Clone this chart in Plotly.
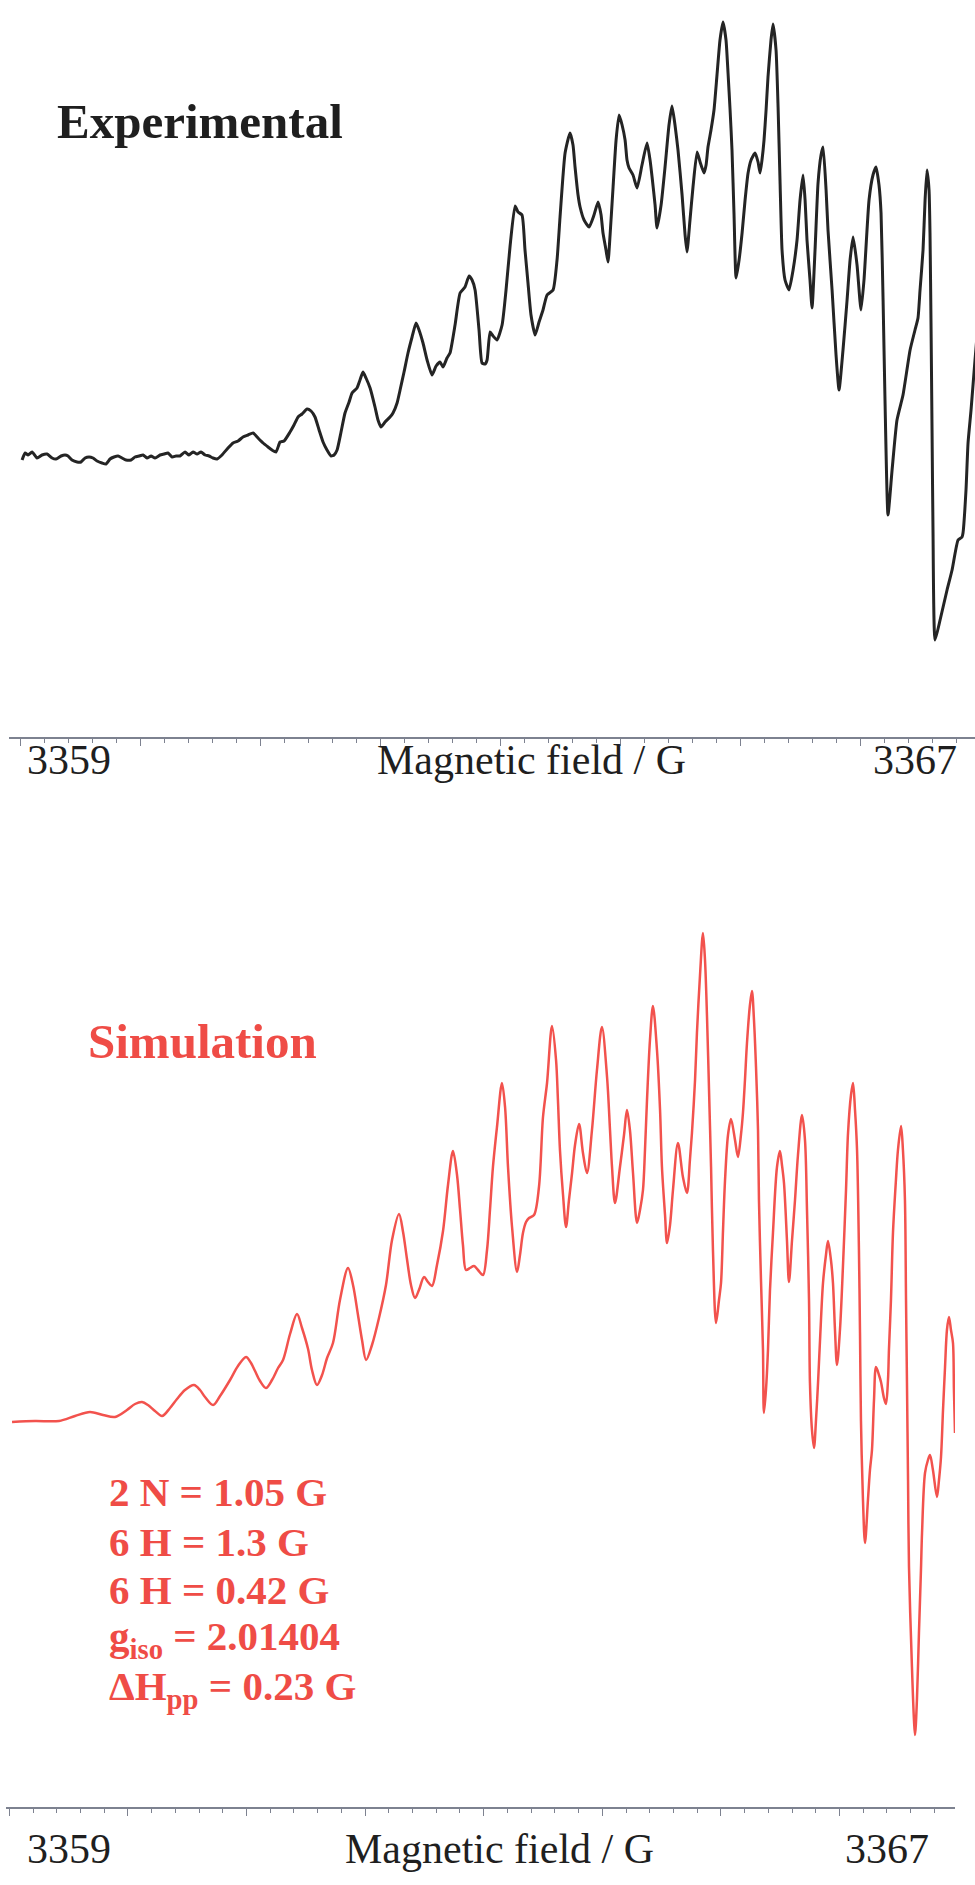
import plotly.graph_objects as go

# ---------------- data ----------------
field_exp = [
    3359.013, 3359.038, 3359.063, 3359.096, 3359.138, 3359.179, 3359.221, 3359.263, 3359.296, 3359.338,
    3359.371, 3359.396, 3359.429, 3359.471, 3359.504, 3359.538, 3359.571, 3359.604, 3359.638, 3359.679,
    3359.713, 3359.746, 3359.779, 3359.813, 3359.846, 3359.879, 3359.921, 3359.954, 3359.988, 3360.021,
    3360.054, 3360.088, 3360.121, 3360.163, 3360.196, 3360.229, 3360.263, 3360.296, 3360.329, 3360.371,
    3360.404, 3360.438, 3360.471, 3360.504, 3360.538, 3360.571, 3360.604, 3360.638,
    3360.679, 3360.729, 3360.771, 3360.813, 3360.854, 3360.896, 3360.938, 3360.979, 3361.021, 3361.063,
    3361.096, 3361.129, 3361.163, 3361.196, 3361.246, 3361.279, 3361.313, 3361.346, 3361.388, 3361.421,
    3361.454, 3361.488, 3361.521, 3361.554, 3361.588, 3361.613, 3361.638, 3361.671, 3361.704, 3361.738,
    3361.763, 3361.804, 3361.829, 3361.854, 3361.879, 3361.913, 3361.954, 3361.979, 3362.004, 3362.038,
    3362.079, 3362.104, 3362.138, 3362.163, 3362.196, 3362.229, 3362.263, 3362.296, 3362.321, 3362.354,
    3362.388, 3362.429, 3362.463, 3362.496, 3362.521, 3362.554, 3362.579, 3362.621, 3362.663, 3362.704,
    3362.738, 3362.763, 3362.788, 3362.821, 3362.846, 3362.871, 3362.888, 3362.913, 3362.938, 3362.971,
    3363.013, 3363.046, 3363.079, 3363.121, 3363.146, 3363.179, 3363.204, 3363.229, 3363.254, 3363.288,
    3363.321, 3363.354, 3363.388, 3363.438, 3363.471, 3363.496, 3363.538, 3363.579, 3363.604, 3363.621,
    3363.646, 3363.663, 3363.696, 3363.738, 3363.779, 3363.813, 3363.838, 3363.854, 3363.879, 3363.896,
    3363.913, 3363.938, 3363.963, 3363.988, 3364.013, 3364.038, 3364.054, 3364.071, 3364.104, 3364.138,
    3364.179, 3364.221, 3364.246, 3364.263, 3364.288, 3364.304, 3364.338, 3364.371, 3364.404, 3364.429,
    3364.454, 3364.479, 3364.513, 3364.538, 3364.554, 3364.579, 3364.604, 3364.638, 3364.663, 3364.696,
    3364.713, 3364.729, 3364.754, 3364.779, 3364.804, 3364.829, 3364.854, 3364.879, 3364.896, 3364.913,
    3364.929, 3364.946, 3364.963, 3364.988, 3365.013, 3365.038, 3365.063, 3365.088, 3365.121, 3365.146,
    3365.163, 3365.179, 3365.196, 3365.213, 3365.229, 3365.254, 3365.271, 3365.296, 3365.313, 3365.329,
    3365.346, 3365.371, 3365.404, 3365.438, 3365.471, 3365.496, 3365.521, 3365.538, 3365.554, 3365.579,
    3365.596, 3365.621, 3365.646, 3365.671, 3365.688, 3365.713, 3365.729, 3365.763, 3365.796, 3365.821,
    3365.854, 3365.888, 3365.913, 3365.938, 3365.971, 3366.004, 3366.029, 3366.071, 3366.104, 3366.129,
    3366.154, 3366.171, 3366.188, 3366.204, 3366.229, 3366.263, 3366.304, 3366.354, 3366.413, 3366.454,
    3366.479, 3366.496, 3366.521, 3366.538, 3366.554, 3366.571, 3366.579, 3366.588, 3366.596, 3366.604,
    3366.621, 3366.663, 3366.721, 3366.763, 3366.813, 3366.846, 3366.854, 3366.879, 3366.896, 3366.921,
    3366.954, 3366.996,
]
signal_exp = [
    -3, 4, 2, 5, -1, 2, 3, -1, -2, 1,
    2, 1, -3, -5, -5, -1, 0, -1, -4, -6,
    -7, -2, 0, 1, -1, -3, -3, 0, 1, 2,
    -1, 1, -1, 2, 3, 4, 0, 1, 1, 5,
    2, 5, 3, 5, 2, 1, -1, -2,
    2, 9, 14, 16, 20, 22, 24, 19, 14, 10,
    7, 5, 15, 16, 25, 32, 40, 43, 48, 46,
    40, 27, 15, 7, 1, 2, 7, 25, 44, 55,
    64, 69, 77, 85, 79, 69, 50, 37, 30, 35,
    40, 44, 54, 67, 85, 104, 120, 134, 127, 114,
    97, 82, 91, 95, 90, 99, 104, 132, 164, 170,
    181, 177, 167, 127, 94, 93, 97, 125, 121, 117,
    132, 167, 210, 251, 245, 242, 207, 174, 142, 122,
    135, 147, 162, 167, 197, 240, 304, 324, 312, 290,
    262, 250, 237, 230, 242, 255, 242, 224, 207, 195,
    222, 270, 317, 342, 332, 317, 297, 289, 282, 269,
    292, 314, 297, 280, 252, 229, 252, 290, 332, 351,
    332, 307, 262, 222, 205, 237, 270, 305, 295, 284,
    292, 310, 327, 347, 382, 417, 435, 417, 384, 347,
    307, 242, 179, 197, 224, 257, 284, 297, 304, 295,
    284, 297, 317, 347, 380, 417, 433, 407, 350, 277,
    207, 177, 167, 187, 217, 257, 282, 257, 217, 177,
    149, 207, 274, 302, 310, 267, 227, 167, 102, 67,
    107, 157, 197, 220, 192, 147, 177, 257, 282, 290,
    272, 244, 157, 57, -58, -13, 37, 62, 107, 127,
    139, 167, 207, 257, 287, 267, 224, 127, 27, -73,
    -183, -163, -133, -113, -83, -80, -76, -33, 14, 47,
    97, 157,
]

field_sim = [
    3359.023, 3359.217, 3359.419, 3359.554, 3359.680, 3359.790, 3359.891, 3359.992, 3360.060, 3360.119,
    3360.169, 3360.228, 3360.288, 3360.355, 3360.414, 3360.481, 3360.557, 3360.608, 3360.650, 3360.718,
    3360.777, 3360.861, 3360.928, 3360.996, 3361.038, 3361.072, 3361.114, 3361.164, 3361.215, 3361.266,
    3361.308, 3361.367, 3361.426, 3361.468, 3361.519, 3361.552, 3361.594, 3361.637, 3361.679, 3361.729,
    3361.788, 3361.856, 3361.898, 3361.940, 3361.974, 3362.008, 3362.058, 3362.117, 3362.176, 3362.227,
    3362.286, 3362.320, 3362.353, 3362.387, 3362.421, 3362.454, 3362.497, 3362.530, 3362.564, 3362.606,
    3362.657, 3362.699, 3362.741, 3362.775, 3362.800, 3362.825, 3362.851, 3362.884, 3362.918, 3362.952,
    3362.994, 3363.028, 3363.053, 3363.078, 3363.112, 3363.154, 3363.180, 3363.205, 3363.239, 3363.281,
    3363.306, 3363.331, 3363.357, 3363.382, 3363.424, 3363.466, 3363.500, 3363.534, 3363.576, 3363.610,
    3363.626, 3363.643, 3363.669, 3363.694, 3363.719, 3363.745, 3363.770, 3363.804, 3363.837, 3363.871,
    3363.913, 3363.955, 3363.997, 3364.040, 3364.065, 3364.082, 3364.107, 3364.149, 3364.183, 3364.208,
    3364.233, 3364.259, 3364.293, 3364.318, 3364.343, 3364.360, 3364.377, 3364.402, 3364.427, 3364.461,
    3364.487, 3364.503, 3364.529, 3364.546, 3364.571, 3364.596, 3364.638, 3364.680, 3364.714, 3364.739,
    3364.756, 3364.782, 3364.798, 3364.824, 3364.849, 3364.866, 3364.883, 3364.900, 3364.917, 3364.933,
    3364.959, 3364.984, 3365.001, 3365.018, 3365.035, 3365.060, 3365.085, 3365.119, 3365.144, 3365.169,
    3365.186, 3365.203, 3365.220, 3365.245, 3365.262, 3365.279, 3365.296, 3365.313, 3365.321, 3365.338,
    3365.355, 3365.363, 3365.380, 3365.397, 3365.414, 3365.439, 3365.473, 3365.498, 3365.515, 3365.532,
    3365.557, 3365.574, 3365.600, 3365.625, 3365.650, 3365.684, 3365.709, 3365.726, 3365.743, 3365.751,
    3365.768, 3365.785, 3365.802, 3365.819, 3365.836, 3365.861, 3365.886, 3365.903, 3365.928, 3365.945,
    3365.962, 3365.979, 3366.004, 3366.029, 3366.055, 3366.072, 3366.097, 3366.114, 3366.131, 3366.148,
    3366.164, 3366.173, 3366.181, 3366.198, 3366.215, 3366.240, 3366.257, 3366.274, 3366.291, 3366.308,
    3366.333, 3366.350, 3366.375, 3366.392, 3366.409, 3366.417, 3366.434, 3366.451, 3366.476, 3366.493,
    3366.519, 3366.535, 3366.552, 3366.561, 3366.569, 3366.578, 3366.586, 3366.611, 3366.628, 3366.637,
    3366.653, 3366.670, 3366.687, 3366.696, 3366.721, 3366.746, 3366.763, 3366.788, 3366.822, 3366.839,
    3366.856, 3366.873, 3366.890, 3366.906, 3366.923, 3366.940, 3366.957, 3366.965, 3366.974,
]
signal_sim = [
    -1, 0, 0, 5, 9, 6, 4, 11, 17, 19,
    16, 10, 5, 13, 22, 31, 36, 31, 24, 16,
    25, 41, 55, 64, 58, 50, 40, 33, 41, 53,
    61, 87, 107, 93, 72, 51, 36, 46, 63, 78,
    121, 153, 136, 106, 81, 61, 76, 103, 136, 181,
    207, 189, 162, 136, 123, 131, 144, 139, 135, 156,
    190, 236, 270, 246, 212, 176, 151, 153, 155, 151,
    146, 171, 211, 254, 294, 338, 314, 254, 194, 149,
    166, 188, 199, 203, 206, 234, 304, 338, 395, 361,
    321, 271, 226, 194, 221, 248, 276, 297, 268, 248,
    291, 351, 394, 344, 291, 254, 218, 254, 286, 311,
    291, 248, 198, 211, 231, 271, 321, 381, 415, 371,
    311, 254, 206, 178, 196, 231, 278, 244, 228, 261,
    288, 341, 388, 446, 488, 461, 404, 331, 254, 171,
    98, 121, 138, 191, 241, 286, 302, 281, 264, 286,
    308, 341, 378, 416, 430, 401, 354, 291, 221, 141,
    71, 8, 31, 71, 131, 188, 254, 270, 256, 238,
    181, 139, 181, 221, 266, 306, 281, 211, 121, 38,
    -9, -27, 1, 38, 81, 138, 166, 180, 161, 138,
    91, 56, 91, 154, 231, 288, 326, 338, 311, 271,
    171, 88, 1, -79, -122, -79, -49, -29, 21, 54,
    46, 39, 23, 17, 41, 71, 121, 188, 241, 271,
    295, 271, 221, 121, 38, -59, -146, -246, -299, -314,
    -279, -212, -149, -112, -52, -39, -34, -49, -76, -59,
    -36, 11, 54, 91, 104, 91, 78, 31, -12,
]

assert len(field_exp) == len(signal_exp), (len(field_exp), len(signal_exp))
assert len(field_sim) == len(signal_sim), (len(field_sim), len(signal_sim))

end_labels = ["3359", "3367"]
axis_title = "Magnetic field / G"
panel_titles = ["Experimental", "Simulation"]
sim_parameters = [
    "2 N = 1.05 G",
    "6 H = 1.3 G",
    "6 H = 0.42 G",
    "g<sub>iso</sub> = 2.01404",
    "\u0394H<sub>pp</sub> = 0.23 G",
]

# ---------------- styling ----------------
W, H = 975, 1885
SERIF = "Liberation Serif, Times New Roman, Times, serif"
BLACK = "#1f1f1f"
RED = "#ef4c46"
AXIS = "#7d8290"


def py(p):
    return (H - p) / H


def px(p):
    return p / W


fig = go.Figure()
fig.add_trace(go.Scatter(x=field_exp, y=signal_exp, mode="lines",
                         line=dict(color="#242424", width=3.0, shape="spline", smoothing=0.5),
                         xaxis="x", yaxis="y", hoverinfo="skip"))
fig.add_trace(go.Scatter(x=field_sim, y=signal_sim, mode="lines",
                         line=dict(color="#f2524d", width=2.5, shape="spline", smoothing=0.9),
                         xaxis="x2", yaxis="y2", hoverinfo="skip"))

axis_common = dict(
    showline=True, linecolor=AXIS, linewidth=1.5,
    showgrid=False, zeroline=False, showticklabels=False,
    ticks="outside", tick0=3359, dtick=1, ticklen=7, tickwidth=1.2, tickcolor=AXIS,
    minor=dict(ticks="outside", tick0=3359, dtick=0.2, ticklen=4, tickwidth=1, tickcolor=AXIS),
    fixedrange=True,
)

fig.update_layout(
    width=W, height=H,
    margin=dict(l=0, r=0, t=0, b=0),
    paper_bgcolor="white", plot_bgcolor="white",
    showlegend=False,
    xaxis=dict(domain=[px(9), 1.0], range=[3358.904, 3366.954], anchor="y", **axis_common),
    yaxis=dict(domain=[py(737), 1.0], range=[-280, 457], anchor="x", visible=False),
    xaxis2=dict(domain=[px(6), px(955)], range=[3358.972, 3366.974], anchor="y2", **axis_common),
    yaxis2=dict(domain=[py(1807), py(880)], range=[-386, 541], anchor="x2", visible=False),
)

ann = []
label_font = dict(family=SERIF, size=42, color=BLACK)
for ytop in (760, 1849):
    ann.append(dict(text=end_labels[0], x=px(25), y=py(ytop), xanchor="left", yanchor="middle",
                    font=label_font))
ann.append(dict(text=axis_title, x=px(531), y=py(760), xanchor="center", yanchor="middle", font=label_font))
ann.append(dict(text=end_labels[1], x=px(914.5), y=py(760), xanchor="center", yanchor="middle", font=label_font))
ann.append(dict(text=axis_title, x=px(499), y=py(1849), xanchor="center", yanchor="middle", font=label_font))
ann.append(dict(text=end_labels[1], x=px(886.5), y=py(1849), xanchor="center", yanchor="middle", font=label_font))

ann.append(dict(text="<b>%s</b>" % panel_titles[0], x=px(55), y=py(121), xanchor="left", yanchor="middle",
                font=dict(family=SERIF, size=49, color=BLACK)))
ann.append(dict(text="<b>%s</b>" % panel_titles[1], x=px(86), y=py(1041), xanchor="left", yanchor="middle",
                font=dict(family=SERIF, size=49, color=RED)))

for line, yc in zip(sim_parameters, [1492, 1542, 1590, 1639, 1689]):
    ann.append(dict(text="<b>%s</b>" % line, x=px(107), y=py(yc), xanchor="left", yanchor="middle",
                    font=dict(family=SERIF, size=41, color=RED)))

for a in ann:
    a.update(xref="paper", yref="paper", showarrow=False)
fig.update_layout(annotations=ann)

fig.write_html("out.html")
